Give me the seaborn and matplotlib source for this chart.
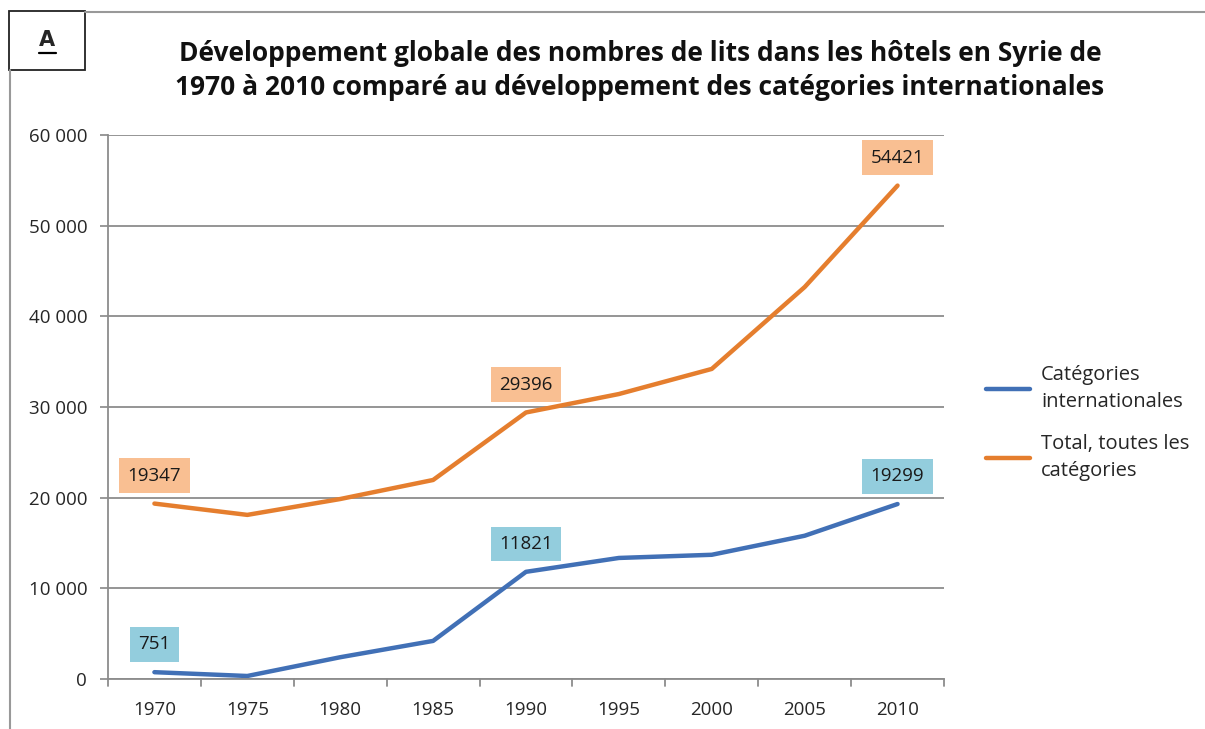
import numpy as np
import pandas as pd
import matplotlib
matplotlib.use("Agg")
import matplotlib.pyplot as plt
import seaborn as sns
from matplotlib.lines import Line2D

# data
years = ['1970', '1975', '1980', '1985', '1990', '1995', '2000', '2005', '2010']
intl = [751, 330, 2400, 4200, 11821, 13350, 13700, 15800, 19299]
total = [19347, 18100, 19850, 21950, 29396, 31430, 34200, 43230, 54421]
labelled = ['1970', '1990', '2010']
series_names = ['Catégories\ninternationales', 'Total, toutes les\ncatégories']

blue = '#4170B6'
orange = '#E57E2E'
blue_box = '#93CDDD'
orange_box = '#F9BF92'

sns.set_theme(style='white')
plt.rcParams['font.family'] = ['Open Sans', 'DejaVu Sans']

df = pd.DataFrame({'year': years * 2,
                   'beds': intl + total,
                   'serie': [series_names[0]] * len(years) + [series_names[1]] * len(years)})
df['x'] = df['year'].map({y: i for i, y in enumerate(years)})

fig = plt.figure(figsize=(12.05, 7.29), dpi=100)
ax = fig.add_axes([0.0896, 0.0686, 0.6938, 0.7462])

sns.lineplot(data=df, x='x', y='beds', hue='serie', palette=[blue, orange],
             linewidth=3.2, ax=ax, legend=False, solid_capstyle='round')

ax.set_xlim(-0.5, len(years) - 0.5)
ax.set_ylim(0, 60000)
ax.set_yticks(np.arange(0, 60001, 10000))
ax.set_yticklabels([f'{v:,}'.replace(',', ' ') for v in range(0, 60001, 10000)], fontsize=13.5)
ax.set_xticks(range(len(years)))
ax.set_xticklabels(years, fontsize=13.5)
ax.tick_params(axis='x', length=0, pad=16)
ax.tick_params(axis='y', length=6, color='#8c8c8c', left=True, pad=9)
for b in np.arange(-0.5, len(years), 1):
    ax.plot([b, b], [0, -0.012], transform=ax.get_xaxis_transform(), color='#8c8c8c',
            lw=1.3, clip_on=False)
ax.grid(axis='y', color='#8c8c8c', lw=1.3)
ax.set_axisbelow(True)
for s in ['top', 'right']:
    ax.spines[s].set_visible(False)
ax.spines['left'].set_color('#8c8c8c')
ax.spines['bottom'].set_color('#8c8c8c')
ax.spines['left'].set_linewidth(1.3)
ax.spines['bottom'].set_linewidth(1.3)
ax.set_xlabel('')
ax.set_ylabel('')

# data labels
for vals, fc in [(intl, blue_box), (total, orange_box)]:
    for y in labelled:
        i = years.index(y)
        ax.annotate(str(vals[i]), (i, vals[i]), xytext=(0, 20), textcoords='offset points',
                    ha='center', va='center', fontsize=13.5, color='#1a1a1a',
                    bbox=dict(boxstyle='square,pad=0.45', fc=fc, ec='none'))

fig.text(0.531, 0.903, 'Développement globale des nombres de lits dans les hôtels en Syrie de\n'
         '1970 à 2010 comparé au développement des catégories internationales',
         ha='center', va='center', fontsize=19, fontweight='bold', linespacing=1.32,
         color='#111111')

handles = [Line2D([], [], color=blue, lw=3.2), Line2D([], [], color=orange, lw=3.2)]
leg = fig.legend(handles, series_names, loc='center left', bbox_to_anchor=(0.803, 0.42),
                 frameon=False, fontsize=14.5, handlelength=2.2, labelspacing=1.1,
                 handletextpad=0.55)
for t in leg.get_texts():
    t.set_linespacing(1.45)

# outer frame and the "A" box
fig.add_artist(Line2D([85 / 1205, 1], [1 - 12 / 729] * 2, color='#999999', lw=1.5,
                      transform=fig.transFigure))
fig.add_artist(Line2D([10 / 1205] * 2, [0, 1 - 70 / 729], color='#999999', lw=1.5,
                      transform=fig.transFigure))
fig.add_artist(plt.Rectangle((9 / 1205, 1 - 70 / 729), 76 / 1205, 59 / 729,
                             fill=False, ec='#222222', lw=1.3, transform=fig.transFigure))
fig.text(47 / 1205, 1 - 40 / 729, 'A', ha='center', va='center', fontsize=15,
         fontweight='bold', family='DejaVu Sans')
fig.add_artist(Line2D([39 / 1205, 56 / 1205], [1 - 53 / 729] * 2, color='black', lw=1.6,
                      transform=fig.transFigure))

fig.savefig('out.png', dpi=100)
